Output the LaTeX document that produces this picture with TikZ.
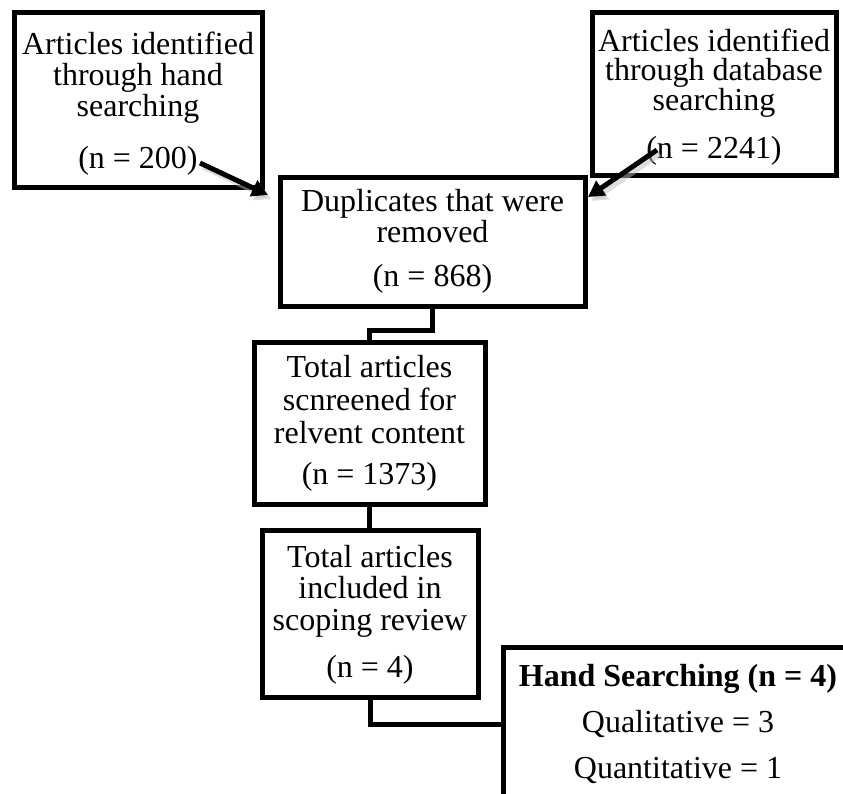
\documentclass[tikz,border=0pt]{standalone}
\usepackage{fontspec}
\setmainfont{Liberation Serif}
\usetikzlibrary{arrows.meta}
\begin{document}
\begin{tikzpicture}[x=1pt,y=-1pt,
  box/.style={draw=black, line width=5pt, align=center, inner sep=0pt, line join=miter},
  conn/.style={line width=5pt, line join=miter},
  arr/.style={line width=5pt, -{Triangle[length=16pt,width=17pt]}},
  shadowarr/.style={line width=5pt, draw=black!25, opacity=0.5, -{Triangle[length=16pt,width=17pt]}}]
\clip (0,0) rectangle (843,793);
\fill[white] (0,0) rectangle (843,793);

\node[box, minimum width=248pt, minimum height=175pt, font=\fontsize{32}{31}\selectfont] (b1) at (138,99.5)
  {\rule{0pt}{30pt}Articles identified\\ through hand\\ searching\\[21pt] (n = 200)};
\node[box, minimum width=244pt, minimum height=163pt, font=\fontsize{32}{29.5}\selectfont] (b2) at (714,93.5)
  {\rule{0pt}{30pt}Articles identified\\ through database\\ searching\\[19pt] (n = 2241)};
\node[box, minimum width=305pt, minimum height=129pt, font=\fontsize{32}{31}\selectfont] (b3) at (432.5,241.5)
  {Duplicates that were\\ removed\\[13pt] (n = 868)};
\node[box, minimum width=231pt, minimum height=162pt, font=\fontsize{32}{33}\selectfont] (b4) at (369.5,423)
  {Total articles\\ scnreened for\\ relvent content\\[8pt] (n = 1373)};
\node[box, minimum width=216pt, minimum height=167pt, font=\fontsize{32}{31.5}\selectfont] (b5) at (370,613.5)
  {\rule{0pt}{25pt}Total articles\\ included in\\ scoping review\\[16pt] (n = 4)};
\node[box, minimum width=350pt, minimum height=154pt, font=\fontsize{32}{46}\selectfont] (b6) at (678,724)
  {\textbf{Hand Searching (n = 4)}\\ Qualitative = 3\\ Quantitative = 1};

\coordinate (a1s) at (200,163);
\coordinate (a1e) at (268,195);
\coordinate (a2s) at (657,150);
\coordinate (a2e) at (588,197);

\draw[shadowarr] ([shift={(3,4)}]a1s) -- ([shift={(3,4)}]a1e);
\draw[shadowarr] ([shift={(3,4)}]a2s) -- ([shift={(3,4)}]a2e);
\draw[arr] (a1s) -- (a1e);
\draw[arr] (a2s) -- (a2e);

\draw[conn] (b3.south) -- ++(0,22) -| (b4.north);
\draw[conn] (b4.south) -- (b4.south |- b5.north);
\draw[conn] (b5.south) |- (b6.west);
\end{tikzpicture}
\end{document}
